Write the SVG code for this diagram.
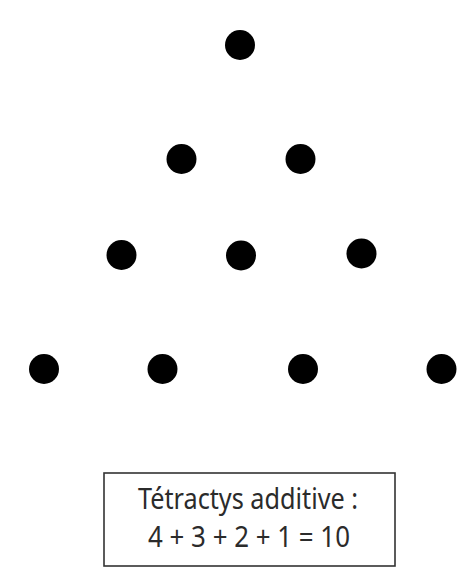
<svg xmlns="http://www.w3.org/2000/svg" width="461" height="574" viewBox="0 0 461 574">
<style>
.dot{fill:#000}
.box{fill:#fff;stroke:#333;stroke-width:1.6}
.lbl{font-family:"Noto Sans","Open Sans",sans-serif;font-size:29px;fill:#2b2b2b;text-anchor:middle}
</style>
<rect width="461" height="574" fill="#fff"/>
<g id="row1"><circle id="d1" class="dot" cx="240" cy="45" r="15"/></g>
<g id="row2"><circle id="d2" class="dot" cx="181.5" cy="159" r="15"/><circle id="d3" class="dot" cx="300.5" cy="159" r="15"/></g>
<g id="row3"><circle id="d4" class="dot" cx="121.5" cy="255" r="15"/><circle id="d5" class="dot" cx="241" cy="255.5" r="15"/><circle id="d6" class="dot" cx="361.5" cy="253.5" r="15"/></g>
<g id="row4"><circle id="d7" class="dot" cx="44" cy="369" r="15"/><circle id="d8" class="dot" cx="162.5" cy="369" r="15"/><circle id="d9" class="dot" cx="303" cy="369" r="15"/><circle id="d10" class="dot" cx="441.5" cy="369" r="15"/></g>
<g id="caption">
<rect class="box" x="104" y="473" width="291" height="93"/>
<text class="lbl" x="248" y="509" textLength="220" lengthAdjust="spacingAndGlyphs">Tétractys additive :</text>
<text class="lbl" x="249" y="547" textLength="202" lengthAdjust="spacingAndGlyphs">4 + 3 + 2 + 1 = 10</text>
</g>
</svg>
